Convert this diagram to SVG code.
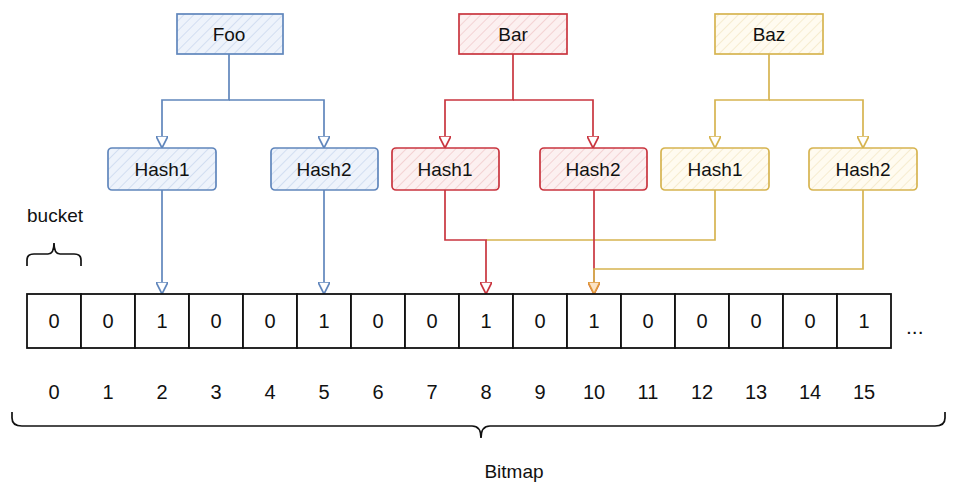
<svg xmlns="http://www.w3.org/2000/svg" width="958" height="500" viewBox="0 0 958 500">
<defs>
<style>
text{font-family:"Liberation Sans",Arial,sans-serif;fill:#111;}
.lbl{font-size:19px;text-anchor:middle;}
.num{font-size:20px;text-anchor:middle;}
.cell{fill:#fff;stroke:#111;stroke-width:1.8;}
.blue{stroke:#6086bc;stroke-width:1.7;}
.red{stroke:#c9353f;stroke-width:1.7;}
.yel{stroke:#d6b450;stroke-width:1.7;}
.conn path{fill:none;}
.brace{fill:none;stroke:#111;stroke-width:1.7;}
</style>
<pattern id="hb" width="7" height="7" patternUnits="userSpaceOnUse" patternTransform="rotate(45)">
<rect width="7" height="7" fill="#eef3fb"/><line x1="0" y1="0" x2="0" y2="7" stroke="#c9d7ee" stroke-width="1.5"/>
</pattern>
<pattern id="hr" width="7" height="7" patternUnits="userSpaceOnUse" patternTransform="rotate(45)">
<rect width="7" height="7" fill="#fcf0f0"/><line x1="0" y1="0" x2="0" y2="7" stroke="#f1c9cb" stroke-width="1.5"/>
</pattern>
<pattern id="hy" width="7" height="7" patternUnits="userSpaceOnUse" patternTransform="rotate(45)">
<rect width="7" height="7" fill="#fffbf0"/><line x1="0" y1="0" x2="0" y2="7" stroke="#f3e8c6" stroke-width="1.5"/>
</pattern>
<marker id="ab" markerWidth="12" markerHeight="12" refX="10" refY="5" orient="auto" markerUnits="userSpaceOnUse" viewBox="0 0 10 10">
<path d="M0,0 L10,5 L0,10 Z" fill="#fff" stroke="#6086bc" stroke-width="1.4"/>
</marker>
<marker id="ar" markerWidth="12" markerHeight="12" refX="10" refY="5" orient="auto" markerUnits="userSpaceOnUse" viewBox="0 0 10 10">
<path d="M0,0 L10,5 L0,10 Z" fill="#fff" stroke="#c9353f" stroke-width="1.4"/>
</marker>
<marker id="ay" markerWidth="12" markerHeight="12" refX="10" refY="5" orient="auto" markerUnits="userSpaceOnUse" viewBox="0 0 10 10">
<path d="M0,0 L10,5 L0,10 Z" fill="#fff" stroke="#d6b450" stroke-width="1.4"/>
</marker>
<marker id="ao" markerWidth="12" markerHeight="12" refX="10" refY="5" orient="auto" markerUnits="userSpaceOnUse" viewBox="0 0 10 10">
<path d="M0,0 L10,5 L0,10 Z" fill="#fbe3c4" stroke="#e0983a" stroke-width="1.4"/>
</marker>
</defs>
<rect width="958" height="500" fill="#fff"/>

<g id="connectors" class="conn">
<path class="blue" d="M229,54 V100 H162 V148" marker-end="url(#ab)"/>
<path class="blue" d="M229,100 H324 V148" marker-end="url(#ab)"/>
<path class="red" d="M513,54 V100 H445 V148" marker-end="url(#ar)"/>
<path class="red" d="M513,100 H593 V148" marker-end="url(#ar)"/>
<path class="yel" d="M769,54 V100 H715 V148" marker-end="url(#ay)"/>
<path class="yel" d="M769,100 H863 V148" marker-end="url(#ay)"/>
<path class="blue" d="M162,190 V294" marker-end="url(#ab)"/>
<path class="blue" d="M324,190 V294" marker-end="url(#ab)"/>
<path class="yel" d="M715,190 V240 H486"/>
<path class="red" d="M445,190 V240 H486 V294" marker-end="url(#ar)"/>
<path class="red" d="M594,190 V294" marker-end="url(#ar)"/>
<path class="yel" d="M863,190 V269 H594 V294" marker-end="url(#ao)"/>
</g>

<g id="foo"><rect x="177" y="14" width="106" height="40" fill="url(#hb)" class="blue"/><text class="lbl" x="229" y="41">Foo</text></g>
<g id="bar"><rect x="459" y="14" width="108" height="40" fill="url(#hr)" class="red"/><text class="lbl" x="513" y="41">Bar</text></g>
<g id="baz"><rect x="715" y="14" width="108" height="40" fill="url(#hy)" class="yel"/><text class="lbl" x="769" y="41">Baz</text></g>

<g id="foo-hash1"><rect x="108" y="148" width="108" height="42" rx="4" fill="url(#hb)" class="blue"/><text class="lbl" x="162" y="176">Hash1</text></g>
<g id="foo-hash2"><rect x="271" y="148" width="107" height="42" rx="4" fill="url(#hb)" class="blue"/><text class="lbl" x="324" y="176">Hash2</text></g>
<g id="bar-hash1"><rect x="392" y="148" width="107" height="42" rx="4" fill="url(#hr)" class="red"/><text class="lbl" x="445" y="176">Hash1</text></g>
<g id="bar-hash2"><rect x="540" y="148" width="107" height="42" rx="4" fill="url(#hr)" class="red"/><text class="lbl" x="593" y="176">Hash2</text></g>
<g id="baz-hash1"><rect x="661" y="148" width="108" height="42" rx="4" fill="url(#hy)" class="yel"/><text class="lbl" x="715" y="176">Hash1</text></g>
<g id="baz-hash2"><rect x="809" y="148" width="108" height="42" rx="4" fill="url(#hy)" class="yel"/><text class="lbl" x="863" y="176">Hash2</text></g>

<g id="bucket">
<text x="27" y="222" font-size="19">bucket</text>
<path class="brace" d="M27,266 V260 Q27,254 34,254 L48,254 Q54,254 54,243 Q54,254 60,254 L74,254 Q81,254 81,260 V266"/>
</g>

<g id="bitmap-cells">
<rect class="cell" x="27" y="294" width="54" height="54"/><text class="num" x="54" y="328">0</text>
<rect class="cell" x="81" y="294" width="54" height="54"/><text class="num" x="108" y="328">0</text>
<rect class="cell" x="135" y="294" width="54" height="54"/><text class="num" x="162" y="328">1</text>
<rect class="cell" x="189" y="294" width="54" height="54"/><text class="num" x="216" y="328">0</text>
<rect class="cell" x="243" y="294" width="54" height="54"/><text class="num" x="270" y="328">0</text>
<rect class="cell" x="297" y="294" width="54" height="54"/><text class="num" x="324" y="328">1</text>
<rect class="cell" x="351" y="294" width="54" height="54"/><text class="num" x="378" y="328">0</text>
<rect class="cell" x="405" y="294" width="54" height="54"/><text class="num" x="432" y="328">0</text>
<rect class="cell" x="459" y="294" width="54" height="54"/><text class="num" x="486" y="328">1</text>
<rect class="cell" x="513" y="294" width="54" height="54"/><text class="num" x="540" y="328">0</text>
<rect class="cell" x="567" y="294" width="54" height="54"/><text class="num" x="594" y="328">1</text>
<rect class="cell" x="621" y="294" width="54" height="54"/><text class="num" x="648" y="328">0</text>
<rect class="cell" x="675" y="294" width="54" height="54"/><text class="num" x="702" y="328">0</text>
<rect class="cell" x="729" y="294" width="54" height="54"/><text class="num" x="756" y="328">0</text>
<rect class="cell" x="783" y="294" width="54" height="54"/><text class="num" x="810" y="328">0</text>
<rect class="cell" x="837" y="294" width="54" height="54"/><text class="num" x="864" y="328">1</text>
<text x="906" y="334" font-size="21">...</text>
</g>

<g id="indices">
<text class="num" x="54" y="399">0</text>
<text class="num" x="108" y="399">1</text>
<text class="num" x="162" y="399">2</text>
<text class="num" x="216" y="399">3</text>
<text class="num" x="270" y="399">4</text>
<text class="num" x="324" y="399">5</text>
<text class="num" x="378" y="399">6</text>
<text class="num" x="432" y="399">7</text>
<text class="num" x="486" y="399">8</text>
<text class="num" x="540" y="399">9</text>
<text class="num" x="594" y="399">10</text>
<text class="num" x="648" y="399">11</text>
<text class="num" x="702" y="399">12</text>
<text class="num" x="756" y="399">13</text>
<text class="num" x="810" y="399">14</text>
<text class="num" x="864" y="399">15</text>
</g>

<g id="bitmap">
<path class="brace" d="M12,412 V418 Q12,426 22,426 L472,426 Q481,426 481,438 Q481,426 490,426 L935,426 Q945,426 945,418 V412"/>
<text x="514" y="478" font-size="19" text-anchor="middle">Bitmap</text>
</g>
</svg>
